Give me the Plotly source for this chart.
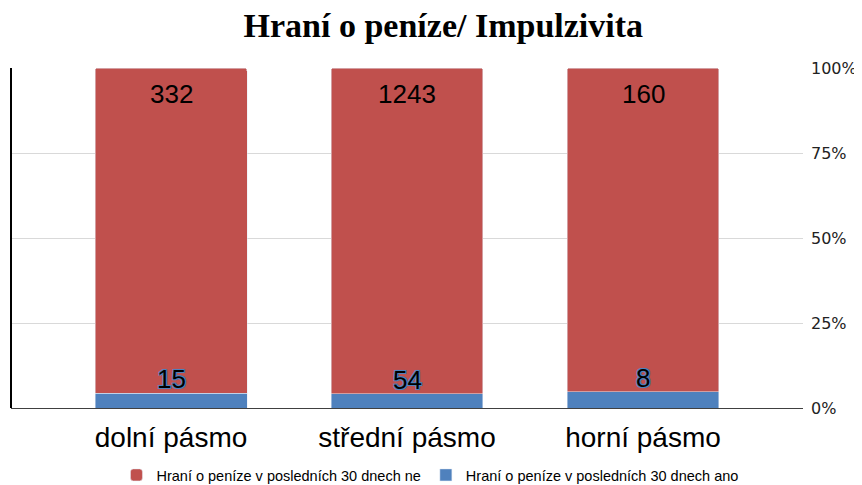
import plotly.graph_objects as go

categories = ["dolní pásmo", "střední pásmo", "horní pásmo"]
ne_values = [332, 1243, 160]
ano_values = [15, 54, 8]
ne_name = "Hraní o peníze v posledních 30 dnech ne"
ano_name = "Hraní o peníze v posledních 30 dnech ano"
y_ticks = [0, 25, 50, 75, 100]
y_labels = ["0%", "25%", "50%", "75%", "100%"]

red = "#c0504d"
blue = "#4f81bd"

fig = go.Figure()
fig.add_trace(go.Bar(x=categories, y=ano_values, name=ano_name,
                     marker=dict(color=blue), width=0.644, legendrank=2))
fig.add_trace(go.Bar(x=categories, y=ne_values, name=ne_name,
                     marker=dict(color=red, cornerradius=3), width=0.644, legendrank=1))

outline = ("-1px -1px 0 %s, 1px -1px 0 %s, -1px 1px 0 %s, 1px 1px 0 %s, "
           "0 0 2px %s" % ((blue,) * 5))

# data labels
for cat, ne, ano in zip(categories, ne_values, ano_values):
    pct = ano / (ano + ne) * 100
    fig.add_annotation(x=cat, y=100, text=str(ne), showarrow=False,
                       yanchor="top", yshift=-9,
                       font=dict(family="Liberation Sans", size=26, color="black"))
    fig.add_annotation(x=cat, y=pct, text=str(ano), showarrow=False,
                       yanchor="bottom", yshift=-3,
                       font=dict(family="Liberation Sans", size=26, color="black",
                                 shadow=outline))

# left frame line
fig.add_shape(type="line", xref="paper", yref="paper", x0=0, x1=0, y0=0, y1=1,
              line=dict(color="black", width=2))

# page body has an 8px margin, so the figure is drawn offset by 8px
fig.update_layout(
    width=862, height=485,
    barmode="stack", barnorm="percent",
    margin=dict(l=3, r=67, t=60, b=85, autoexpand=False),
    paper_bgcolor="white", plot_bgcolor="white",
    title=dict(text="<b>Hraní o peníze/ Impulzivita</b>", x=0.505, xanchor="center",
               y=0.964, yanchor="middle",
               font=dict(family="Liberation Serif", size=34, color="black")),
    xaxis=dict(range=[-0.678, 2.678], showline=True, linecolor="#404040", linewidth=1,
               tickfont=dict(family="Liberation Sans", size=28, color="black"),
               ticks="", showgrid=False, automargin=False, ticklabelstandoff=4),
    yaxis=dict(range=[0, 100], side="right", tickvals=y_ticks, ticktext=y_labels,
               showgrid=True, gridcolor="#d9d9d9", gridwidth=1, zeroline=False,
               automargin=False, ticklabelstandoff=7,
               tickfont=dict(family="DejaVu Sans", size=16, color="#222222")),
    legend=dict(orientation="h", x=0.529, xanchor="center", y=-0.197, yanchor="middle",
                traceorder="normal",
                font=dict(family="Liberation Sans", size=14.5, color="black")),
)

fig.write_html("out.html")
